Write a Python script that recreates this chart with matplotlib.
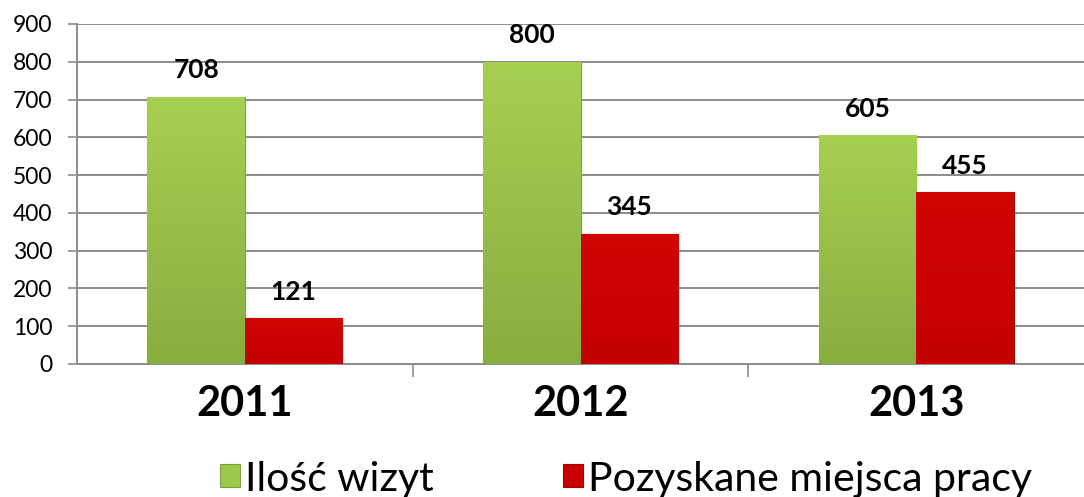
import matplotlib
matplotlib.use("Agg")
import matplotlib.pyplot as plt
import numpy as np
from matplotlib.colors import LinearSegmentedColormap

years = ["2011", "2012", "2013"]
wizyty = [708, 800, 605]
miejsca = [121, 345, 455]
series_names = ["Ilość wizyt", "Pozyskane miejsca pracy"]
yticks = [0, 100, 200, 300, 400, 500, 600, 700, 800, 900]

plt.rcParams['font.family'] = ['Lato', 'DejaVu Sans']

W, H = 1084, 497
fig = plt.figure(figsize=(W / 100, H / 100), dpi=100)
ax = fig.add_axes([77 / W, 1 - 364 / H, 1 - 77 / W, (364 - 24) / H])

x = np.arange(len(years))
bw = 0.29
green = "#9CC84B"
red = "#CC0000"
b1 = ax.bar(x - bw / 2, wizyty, bw, color=green, edgecolor="#7F9F3A", linewidth=0.8, zorder=3, label=series_names[0])
b2 = ax.bar(x + bw / 2, miejsca, bw, color=red, edgecolor="#A00000", linewidth=0.8, zorder=3, label=series_names[1])

# subtle gradients clipped to the bars
gcm = LinearSegmentedColormap.from_list("g", ["#88AD3F", "#A6D052"])
rcm = LinearSegmentedColormap.from_list("r", ["#C40000", "#D20404"])
grad = np.linspace(0, 1, 256).reshape(-1, 1)
for bars, cm in ((b1, gcm), (b2, rcm)):
    for p in bars:
        x0, y0 = p.get_x(), p.get_y()
        im = ax.imshow(grad, cmap=cm, origin="lower", aspect="auto",
                       extent=(x0, x0 + p.get_width(), y0, y0 + p.get_height()), zorder=3.5)
        im.set_clip_path(p)

for bars, vals in ((b1, wizyty), (b2, miejsca)):
    for p, v in zip(bars, vals):
        ax.annotate(str(v), (p.get_x() + p.get_width() / 2, v), xytext=(0, 19),
                    textcoords="offset points", ha="center", va="center",
                    fontsize=19, fontweight="bold", zorder=5)

ax.set_xlim(-0.5, 2.5)
ax.set_ylim(0, 900)
ax.set_yticks(yticks)
ax.set_yticklabels([str(t) for t in yticks])
ax.yaxis.grid(True, color="#8C8C8C", linewidth=1.4, zorder=0)
ax.set_axisbelow(True)
ax.tick_params(axis="y", length=6.5, width=1.2, color="#8C8C8C", pad=11, labelsize=16.5)
ax.set_xticks(x)
ax.set_xticklabels(years, fontsize=30, fontweight="bold")
ax.tick_params(axis="x", which="major", length=0, pad=15)
ax.set_xticks([0.5, 1.5], minor=True)
ax.tick_params(axis="x", which="minor", length=9, width=1.2, color="#8C8C8C")
for s in ("top", "right"):
    ax.spines[s].set_visible(False)
for s in ("left", "bottom"):
    ax.spines[s].set_color("#8C8C8C")
    ax.spines[s].set_linewidth(1.4)

fig.legend(handles=[b1, b2], labels=series_names, loc="center",
           bbox_to_anchor=(626 / W, 1 - 479 / H), ncol=2, frameon=False,
           fontsize=29.5, handlelength=0.49, handleheight=0.49, handletextpad=0.12,
           columnspacing=3.15)

fig.savefig("out.png", dpi=100)
